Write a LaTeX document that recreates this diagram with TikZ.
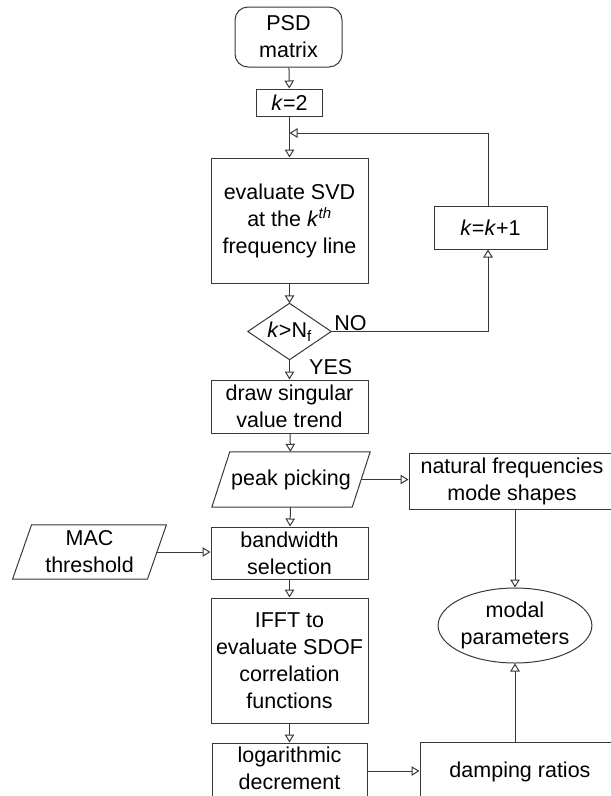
\documentclass[tikz,border=0pt]{standalone}
\usepackage{fontspec}
\setmainfont{Liberation Sans}
\usetikzlibrary{arrows.meta,shapes.geometric}

\tikzset{
  txt/.style={font=\fontsize{21.5}{27}\selectfont, inner sep=0pt, align=center, text=black},
  line/.style={draw=black!78, line width=1pt},
  flow/.style={line, -{Triangle[open, length=8pt, width=9.5pt]}},
  box/.style={txt, line, rectangle},
  slanted/.style={txt, rectangle},
}

\begin{document}
\begin{tikzpicture}[x=1pt, y=-1pt]
  \useasboundingbox (0,0) rectangle (611,796);
  \clip (0,0) rectangle (611,796);

  % main column
  \node[box, rounded corners=13pt, minimum width=107pt, minimum height=60pt] (psd) at (288.5,37) {PSD\\matrix};
  \node[box, minimum width=66pt, minimum height=27pt] (k2) at (289.5,102.5) {\textit{k}=2};
  \node[box, minimum width=157pt, minimum height=125pt] (svd) at (289.5,220.5)
    {evaluate SVD\\at the \textit{k}\textsuperscript{\textit{th}}\\frequency line};
  \node[txt, minimum width=83pt, minimum height=56pt] (dec) at (289.5,331.5) {\textit{k}>N\textsubscript{f}};
  \draw[line] (dec.north) -- (dec.east) -- (dec.south) -- (dec.west) -- cycle;
  \node[box, minimum width=157pt, minimum height=53pt] (dsv) at (289.5,406.5) {draw singular\\value trend};
  \node[slanted, minimum width=140pt, minimum height=55pt] (peak) at (291,479.5) {peak picking};
  \draw[line] ([xshift=9pt]peak.north west) -- ([xshift=9pt]peak.north east)
    -- ([xshift=-9pt]peak.south east) -- ([xshift=-9pt]peak.south west) -- cycle;
  \node[box, minimum width=157pt, minimum height=52pt] (bw) at (289.5,553) {bandwidth\\selection};
  \node[box, minimum width=157pt, minimum height=125pt] (ifft) at (289.5,660.5)
    {IFFT to\\evaluate SDOF\\correlation\\functions};
  % the box runs on below the page edge; its text sits in the visible part
  \node[box, minimum width=155pt, minimum height=66pt,
        label={[txt, yshift=7.5pt]center:{logarithmic\\decrement}}] (log) at (289.5,776) {};

  % loop counter
  \node[box, minimum width=113pt, minimum height=43pt] (kk1) at (490.5,227.5) {\textit{k}=\textit{k}+1};

  % side inputs and results
  \node[slanted, minimum width=134.5pt, minimum height=54pt] (mac) at (89.5,552) {MAC\\threshold};
  \draw[line] ([xshift=9.5pt]mac.north west) -- ([xshift=9.5pt]mac.north east)
    -- ([xshift=-9.5pt]mac.south east) -- ([xshift=-9.5pt]mac.south west) -- cycle;
  \node[box, minimum width=206pt, minimum height=56pt] (nat) at (512,481) {natural frequencies\\mode shapes};
  \node[box, ellipse, minimum width=138pt, minimum height=75pt] (modal) at (515,625.5) {modal\\parameters};
  \node[box, minimum width=200pt, minimum height=60pt] (damp) at (520,772) {damping ratios};

  % connectors of the main column
  \draw[flow] (psd) -- (k2);
  \draw[flow] (k2) -- (svd);
  \draw[flow] (svd) -- (dec);
  \draw[flow] (dec) -- (dsv);
  \draw[flow] (dsv) -- (peak);
  \draw[flow] (peak) -- (bw);
  \draw[flow] (bw) -- (ifft);
  \draw[flow] (ifft) -- (log);

  % loop back
  \coordinate (loopdown) at ([xshift=-2.5pt]kk1.south);
  \coordinate (loopup) at ([xshift=-2.5pt]kk1.north);
  \coordinate (join) at (289.5,133);
  \draw[flow] (dec.east) -- (dec.east -| loopdown) -- (loopdown);
  \draw[flow] (loopup) -- (loopup |- join) -- (join);
  \node[txt, anchor=south west] (no) at ([xshift=3pt,yshift=1pt]dec.east) {NO};
  \node[txt, anchor=west] (yes) at (309,367.5) {YES};

  % side connectors
  \draw[flow] (peak.east) -- (peak.east -| nat.west);
  \draw[flow] (mac.east) -- (mac.east -| bw.west);
  \draw[flow] (nat.south -| modal.north) -- (modal.north);
  \draw[flow] (log.east |- 0,771) -- (damp.west |- 0,771);
  \draw[flow] (damp.north -| modal.south) -- (modal.south);
\end{tikzpicture}
\end{document}
